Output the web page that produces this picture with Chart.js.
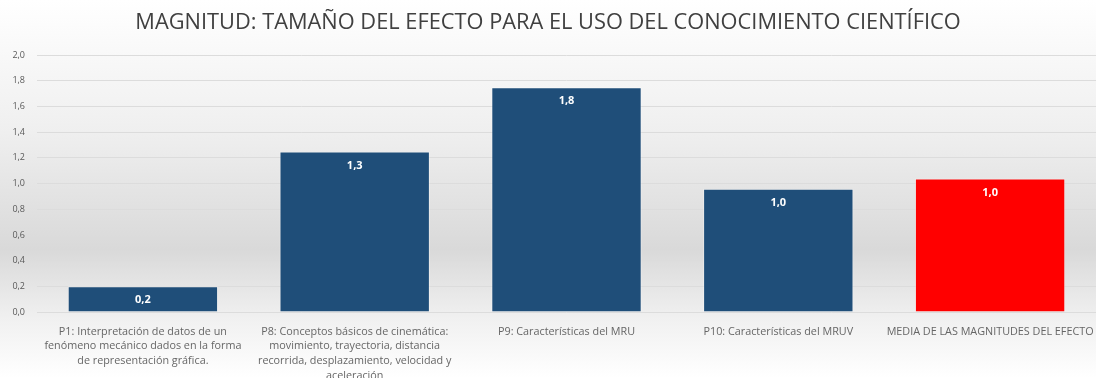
<!DOCTYPE html>
<html>
<head>
<meta charset="utf-8">
<script src="https://cdn.jsdelivr.net/npm/chart.js@4/dist/chart.umd.min.js"></script>
<style>
  html, body { margin: 0; padding: 0; background: #fff; }
  #wrap { width: 1096px; height: 378px; }
</style>
</head>
<body>
<div id="wrap"><canvas id="myChart"></canvas></div>
<script>
const ctx = document.getElementById('myChart');

const titleText = 'MAGNITUD: TAMAÑO DEL EFECTO PARA EL USO DEL CONOCIMIENTO CIENTÍFICO';
const labels = [
    ['P1: Interpretación de datos de un', 'fenómeno mecánico dados en la forma', 'de representación gráfica.'],
    ['P8: Conceptos básicos de cinemática:', 'movimiento, trayectoria, distancia', 'recorrida, desplazamiento, velocidad y', 'aceleración'],
    ['P9: Características del MRU'],
    ['P10: Características del MRUV'],
    ['MEDIA DE LAS MAGNITUDES DEL EFECTO']
];
const values = [0.2, 1.25, 1.75, 0.96, 1.04];
const barColors = ['#1f4e79', '#1f4e79', '#1f4e79', '#1f4e79', '#ff0000'];
const yMin = 0;
const yMax = 2;
const yStep = 0.2;

const comma = (v) => v.toFixed(1).replace('.', ',');

// gradient background like the office chart
const background = {
    id: 'background',
    beforeDraw(chart) {
        const c = chart.ctx;
        const g = c.createLinearGradient(0, 0, 0, chart.height);
        g.addColorStop(0, '#ffffff');
        g.addColorStop(0.35, '#efefef');
        g.addColorStop(0.66, '#d9d9d9');
        g.addColorStop(0.84, '#f0f0f0');
        g.addColorStop(1, '#ffffff');
        c.save();
        c.fillStyle = g;
        c.fillRect(0, 0, chart.width, chart.height);
        c.restore();
    }
};

// value labels inside the top of each bar
const valueLabels = {
    id: 'valueLabels',
    afterDatasetsDraw(chart) {
        const c = chart.ctx;
        const meta = chart.getDatasetMeta(0);
        c.save();
        c.font = 'bold 11px "Open Sans"';
        c.fillStyle = '#ffffff';
        c.textAlign = 'center';
        c.textBaseline = 'middle';
        meta.data.forEach((bar, i) => {
            c.fillText(comma(values[i]), bar.x, bar.y + 14);
        });
        c.restore();
    }
};

new Chart(ctx, {
    type: 'bar',
    data: {
        labels: labels,
        datasets: [
            {
                data: values,
                backgroundColor: barColors,
                borderColor: 'rgba(255,255,255,0.35)',
                borderWidth: 1,
                barPercentage: 0.71,
                categoryPercentage: 1.0,
            }
        ]
    },
    plugins: [background, valueLabels],
    options: {
        responsive: true,
        maintainAspectRatio: false,
        animation: false,
        layout: { padding: 0 },
        plugins: {
            legend: { display: false },
            tooltip: { enabled: false },
            title: {
                display: true,
                text: titleText,
                color: '#404040',
                font: { family: 'Open Sans', size: 21.8, weight: 'normal' },
                padding: { top: 10, bottom: 19 }
            }
        },
        scales: {
            x: {
                grid: { display: false },
                border: { display: false },
                ticks: {
                    color: '#666666',
                    font: { family: 'Open Sans', size: 10.8, lineHeight: 1.38 },
                    maxRotation: 0,
                    autoSkip: false,
                    padding: 4
                },
                afterFit: (scale) => {
                    scale.height = 66;
                    scale.paddingLeft = 0;
                    scale.paddingRight = 0;
                }
            },
            y: {
                min: yMin,
                max: yMax,
                grid: { color: '#dcdcdc', drawTicks: false },
                border: { display: false },
                ticks: {
                    stepSize: yStep,
                    color: '#595959',
                    font: { family: 'Open Sans', size: 9 },
                    padding: 12,
                    callback: (v) => comma(v)
                },
                afterFit: (scale) => {
                    scale.width = 37;
                }
            }
        }
    }
});
</script>
</body>
</html>
